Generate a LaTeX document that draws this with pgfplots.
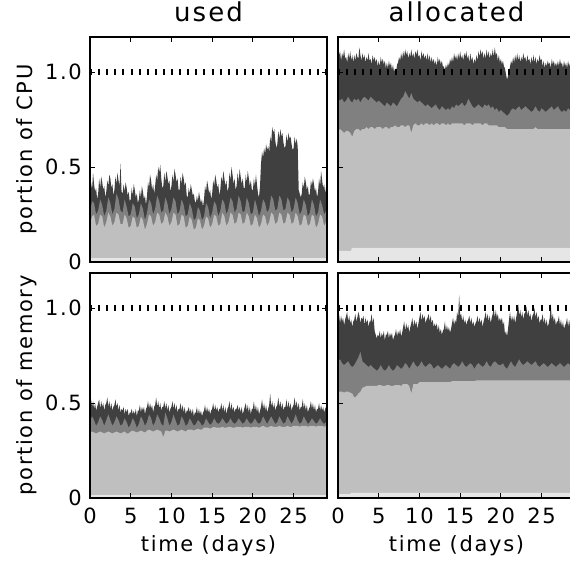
\documentclass[border=0pt]{standalone}
\usepackage{pgfplots}
\usepackage{pgfplotstable}
\pgfplotsset{compat=1.18}
\usepackage{fontspec}
\setmainfont{DejaVu Sans}[LetterSpace=8]

\definecolor{cbase}{RGB}{230,230,230}
\definecolor{clight}{RGB}{191,191,191}
\definecolor{cmid}{RGB}{128,128,128}
\definecolor{cdark}{RGB}{64,64,64}

% ---------- CPU used: light / medium tops ----------
\pgfplotstableread{
t l m
0.00 0.20 0.26
0.25 0.24 0.32
0.50 0.25 0.31
0.75 0.19 0.25
1.00 0.20 0.27
1.25 0.25 0.33
1.50 0.24 0.30
1.75 0.18 0.24
2.00 0.21 0.27
2.25 0.26 0.34
2.50 0.24 0.31
2.75 0.19 0.25
3.00 0.21 0.28
3.25 0.26 0.36
3.50 0.25 0.33
3.75 0.20 0.27
4.00 0.20 0.26
4.25 0.25 0.33
4.50 0.23 0.29
4.75 0.18 0.24
5.00 0.19 0.25
5.25 0.24 0.31
5.50 0.23 0.29
5.75 0.18 0.23
6.00 0.19 0.25
6.25 0.24 0.31
6.50 0.22 0.28
6.75 0.17 0.22
7.00 0.20 0.26
7.25 0.25 0.33
7.50 0.24 0.31
7.75 0.19 0.25
8.00 0.21 0.28
8.25 0.26 0.35
8.50 0.25 0.32
8.75 0.20 0.26
9.00 0.21 0.27
9.25 0.26 0.34
9.50 0.24 0.31
9.75 0.19 0.25
10.00 0.21 0.28
10.25 0.26 0.34
10.50 0.25 0.32
10.75 0.19 0.25
11.00 0.20 0.27
11.25 0.25 0.33
11.50 0.24 0.30
11.75 0.18 0.24
12.00 0.19 0.25
12.25 0.24 0.31
12.50 0.22 0.28
12.75 0.17 0.22
13.00 0.18 0.23
13.25 0.23 0.29
13.50 0.22 0.27
13.75 0.17 0.22
14.00 0.19 0.24
14.25 0.24 0.31
14.50 0.23 0.29
14.75 0.18 0.23
15.00 0.20 0.26
15.25 0.25 0.32
15.50 0.24 0.30
15.75 0.19 0.24
16.00 0.20 0.27
16.25 0.26 0.33
16.50 0.24 0.31
16.75 0.19 0.25
17.00 0.21 0.28
17.25 0.26 0.34
17.50 0.25 0.32
17.75 0.20 0.26
18.00 0.21 0.28
18.25 0.26 0.35
18.50 0.25 0.32
18.75 0.20 0.26
19.00 0.21 0.27
19.25 0.26 0.34
19.50 0.24 0.31
19.75 0.19 0.25
20.00 0.20 0.26
20.25 0.25 0.33
20.50 0.23 0.29
20.75 0.18 0.24
21.00 0.20 0.27
21.25 0.25 0.33
21.50 0.24 0.31
21.75 0.19 0.26
22.00 0.21 0.28
22.25 0.26 0.35
22.50 0.25 0.33
22.75 0.20 0.27
23.00 0.21 0.28
23.25 0.26 0.35
23.50 0.25 0.33
23.75 0.20 0.27
24.00 0.21 0.28
24.25 0.26 0.34
24.50 0.25 0.32
24.75 0.20 0.26
25.00 0.21 0.28
25.25 0.26 0.34
25.50 0.24 0.31
25.75 0.19 0.25
26.00 0.20 0.27
26.25 0.25 0.33
26.50 0.24 0.30
26.75 0.19 0.24
27.00 0.20 0.26
27.25 0.25 0.33
27.50 0.24 0.30
27.75 0.18 0.24
28.00 0.20 0.26
28.25 0.25 0.33
28.50 0.24 0.30
28.75 0.19 0.25
29.00 0.21 0.27
29.10 0.24 0.31
}\dataA

% ---------- CPU used: dark top ----------
\pgfplotstableread[row sep=\\]{
t d\\
0 0.34\\ 0.125 0.42\\ 0.25 0.38\\ 0.375 0.47\\ 0.5 0.41\\ 0.625 0.37\\ 0.75 0.39\\ 0.875 0.33\\
1 0.36\\ 1.125 0.44\\ 1.25 0.39\\ 1.375 0.45\\ 1.5 0.42\\ 1.625 0.38\\ 1.75 0.40\\ 1.875 0.34\\
2 0.37\\ 2.125 0.43\\ 2.25 0.40\\ 2.375 0.46\\ 2.5 0.44\\ 2.625 0.39\\ 2.75 0.41\\ 2.875 0.35\\
3 0.38\\ 3.125 0.45\\ 3.25 0.41\\ 3.375 0.47\\ 3.5 0.43\\ 3.625 0.40\\ 3.75 0.52\\ 3.875 0.37\\
4 0.36\\ 4.125 0.41\\ 4.25 0.37\\ 4.375 0.42\\ 4.5 0.39\\ 4.625 0.35\\ 4.75 0.37\\ 4.875 0.32\\
5 0.33\\ 5.125 0.39\\ 5.25 0.35\\ 5.375 0.41\\ 5.5 0.38\\ 5.625 0.34\\ 5.75 0.36\\ 5.875 0.31\\
6 0.33\\ 6.125 0.38\\ 6.25 0.34\\ 6.375 0.40\\ 6.5 0.37\\ 6.625 0.33\\ 6.75 0.35\\ 6.875 0.30\\
7 0.35\\ 7.125 0.42\\ 7.25 0.39\\ 7.375 0.46\\ 7.5 0.43\\ 7.625 0.38\\ 7.75 0.41\\ 7.875 0.36\\
8 0.40\\ 8.125 0.46\\ 8.25 0.43\\ 8.375 0.50\\ 8.5 0.47\\ 8.625 0.51\\ 8.75 0.44\\ 8.875 0.39\\
9 0.40\\ 9.125 0.47\\ 9.25 0.42\\ 9.375 0.48\\ 9.5 0.45\\ 9.625 0.41\\ 9.75 0.43\\ 9.875 0.37\\
10 0.40\\ 10.125 0.46\\ 10.25 0.42\\ 10.375 0.49\\ 10.5 0.46\\ 10.625 0.42\\ 10.75 0.44\\ 10.875 0.38\\
11 0.38\\ 11.125 0.45\\ 11.25 0.41\\ 11.375 0.47\\ 11.5 0.44\\ 11.625 0.40\\ 11.75 0.42\\ 11.875 0.35\\
12 0.34\\ 12.125 0.39\\ 12.25 0.36\\ 12.375 0.41\\ 12.5 0.38\\ 12.625 0.35\\ 12.75 0.36\\ 12.875 0.32\\
13 0.31\\ 13.125 0.35\\ 13.25 0.32\\ 13.375 0.37\\ 13.5 0.34\\ 13.625 0.31\\ 13.75 0.33\\ 13.875 0.29\\
14 0.33\\ 14.125 0.40\\ 14.25 0.37\\ 14.375 0.43\\ 14.5 0.40\\ 14.625 0.36\\ 14.75 0.38\\ 14.875 0.33\\
15 0.36\\ 15.125 0.43\\ 15.25 0.40\\ 15.375 0.46\\ 15.5 0.43\\ 15.625 0.39\\ 15.75 0.41\\ 15.875 0.35\\
16 0.38\\ 16.125 0.45\\ 16.25 0.42\\ 16.375 0.48\\ 16.5 0.44\\ 16.625 0.40\\ 16.75 0.43\\ 16.875 0.37\\
17 0.39\\ 17.125 0.47\\ 17.25 0.43\\ 17.375 0.50\\ 17.5 0.46\\ 17.625 0.41\\ 17.75 0.44\\ 17.875 0.38\\
18 0.40\\ 18.125 0.47\\ 18.25 0.42\\ 18.375 0.49\\ 18.5 0.45\\ 18.625 0.41\\ 18.75 0.44\\ 18.875 0.39\\
19 0.39\\ 19.125 0.46\\ 19.25 0.42\\ 19.375 0.48\\ 19.5 0.44\\ 19.625 0.40\\ 19.75 0.43\\ 19.875 0.38\\
20 0.38\\ 20.125 0.44\\ 20.25 0.40\\ 20.375 0.46\\ 20.5 0.41\\ 20.625 0.36\\ 20.75 0.34\\ 20.875 0.40\\
21 0.52\\ 21.125 0.58\\ 21.25 0.55\\ 21.375 0.60\\ 21.5 0.57\\ 21.625 0.62\\ 21.75 0.59\\ 21.875 0.61\\
22 0.58\\ 22.125 0.66\\ 22.25 0.63\\ 22.375 0.71\\ 22.5 0.68\\ 22.625 0.70\\ 22.75 0.64\\ 22.875 0.60\\
23 0.62\\ 23.125 0.69\\ 23.25 0.65\\ 23.375 0.70\\ 23.5 0.66\\ 23.625 0.68\\ 23.75 0.63\\ 23.875 0.60\\
24 0.61\\ 24.125 0.67\\ 24.25 0.63\\ 24.375 0.68\\ 24.5 0.65\\ 24.625 0.66\\ 24.75 0.62\\ 24.875 0.59\\
25 0.60\\ 25.125 0.66\\ 25.25 0.62\\ 25.375 0.65\\ 25.5 0.61\\ 25.625 0.38\\ 25.75 0.36\\ 25.875 0.34\\
26 0.36\\ 26.125 0.42\\ 26.25 0.39\\ 26.375 0.45\\ 26.5 0.42\\ 26.625 0.38\\ 26.75 0.40\\ 26.875 0.35\\
27 0.36\\ 27.125 0.43\\ 27.25 0.40\\ 27.375 0.44\\ 27.5 0.41\\ 27.625 0.37\\ 27.75 0.39\\ 27.875 0.34\\
28 0.37\\ 28.125 0.44\\ 28.25 0.40\\ 28.375 0.48\\ 28.5 0.43\\ 28.625 0.39\\ 28.75 0.41\\ 28.875 0.36\\
29 0.40\\ 29.1 0.43\\
}\darkA

% ---------- CPU allocated: light / medium tops ----------
\pgfplotstableread{
t l m
0.00 0.69 0.86
0.25 0.70 0.85
0.50 0.69 0.86
0.75 0.68 0.84
1.00 0.69 0.85
1.25 0.69 0.87
1.50 0.68 0.85
1.75 0.66 0.84
2.00 0.69 0.86
2.25 0.70 0.85
2.50 0.70 0.86
2.75 0.69 0.84
3.00 0.70 0.86
3.25 0.70 0.87
3.50 0.71 0.86
3.75 0.70 0.85
4.00 0.71 0.87
4.25 0.71 0.86
4.50 0.70 0.85
4.75 0.71 0.84
5.00 0.71 0.85
5.25 0.71 0.84
5.50 0.70 0.83
5.75 0.71 0.82
6.00 0.71 0.84
6.25 0.70 0.83
6.50 0.71 0.82
6.75 0.71 0.84
7.00 0.72 0.83
7.25 0.71 0.82
7.50 0.71 0.84
7.75 0.72 0.86
8.00 0.72 0.87
8.25 0.71 0.90
8.50 0.72 0.88
8.75 0.72 0.86
9.00 0.68 0.89
9.25 0.72 0.86
9.50 0.73 0.85
9.75 0.72 0.84
10.00 0.72 0.85
10.25 0.73 0.84
10.50 0.72 0.83
10.75 0.73 0.82
11.00 0.73 0.83
11.25 0.72 0.82
11.50 0.73 0.81
11.75 0.72 0.82
12.00 0.73 0.83
12.25 0.73 0.81
12.50 0.72 0.80
12.75 0.73 0.82
13.00 0.73 0.81
13.25 0.72 0.80
13.50 0.73 0.81
13.75 0.72 0.80
14.00 0.73 0.82
14.25 0.73 0.81
14.50 0.73 0.83
14.75 0.73 0.82
15.00 0.73 0.83
15.25 0.73 0.84
15.50 0.72 0.82
15.75 0.73 0.83
16.00 0.73 0.86
16.25 0.73 0.84
16.50 0.72 0.82
16.75 0.73 0.81
17.00 0.73 0.82
17.25 0.73 0.83
17.50 0.73 0.82
17.75 0.72 0.81
18.00 0.73 0.83
18.25 0.73 0.82
18.50 0.72 0.83
18.75 0.72 0.81
19.00 0.72 0.82
19.25 0.72 0.80
19.50 0.72 0.81
19.75 0.71 0.79
20.00 0.71 0.80
20.25 0.71 0.79
20.50 0.71 0.78
20.75 0.70 0.77
21.00 0.70 0.78
21.25 0.70 0.80
21.50 0.70 0.81
21.75 0.70 0.80
22.00 0.70 0.81
22.25 0.70 0.82
22.50 0.70 0.80
22.75 0.70 0.81
23.00 0.70 0.82
23.25 0.70 0.81
23.50 0.70 0.80
23.75 0.70 0.79
24.00 0.70 0.80
24.25 0.71 0.82
24.50 0.70 0.80
24.75 0.70 0.79
25.00 0.70 0.81
25.25 0.70 0.80
25.50 0.70 0.79
25.75 0.70 0.80
26.00 0.70 0.81
26.25 0.70 0.82
26.50 0.70 0.80
26.75 0.70 0.81
27.00 0.70 0.82
27.25 0.70 0.80
27.50 0.70 0.79
27.75 0.70 0.80
28.00 0.70 0.79
28.25 0.70 0.81
28.50 0.70 0.80
28.75 0.70 0.79
29.00 0.70 0.80
29.10 0.70 0.79
}\dataB

% ---------- CPU allocated: dark top ----------
\pgfplotstableread[row sep=\\]{
t d\\
0 1.13\\ 0.125 1.09\\ 0.25 1.11\\ 0.375 1.06\\ 0.5 1.10\\ 0.625 1.08\\ 0.75 1.12\\ 0.875 1.07\\
1 1.08\\ 1.125 1.05\\ 1.25 1.10\\ 1.375 1.07\\ 1.5 1.11\\ 1.625 1.06\\ 1.75 1.09\\ 1.875 1.05\\
2 1.09\\ 2.125 1.06\\ 2.25 1.10\\ 2.375 1.08\\ 2.5 1.07\\ 2.625 1.13\\ 2.75 1.09\\ 2.875 1.06\\
3 1.10\\ 3.125 1.07\\ 3.25 1.09\\ 3.375 1.05\\ 3.5 1.08\\ 3.625 1.06\\ 3.75 1.10\\ 3.875 1.06\\
4 1.07\\ 4.125 1.04\\ 4.25 1.09\\ 4.375 1.06\\ 4.5 1.08\\ 4.625 1.05\\ 4.75 1.07\\ 4.875 1.03\\
5 1.06\\ 5.125 1.03\\ 5.25 1.08\\ 5.375 1.05\\ 5.5 1.07\\ 5.625 1.04\\ 5.75 1.06\\ 5.875 1.02\\
6 1.05\\ 6.125 1.02\\ 6.25 1.06\\ 6.375 1.03\\ 6.5 1.05\\ 6.625 1.01\\ 6.75 1.04\\ 6.875 1.00\\
7 1.02\\ 7.125 1.00\\ 7.25 1.04\\ 7.375 1.05\\ 7.5 1.08\\ 7.625 1.06\\ 7.75 1.10\\ 7.875 1.07\\
8 1.11\\ 8.125 1.08\\ 8.25 1.12\\ 8.375 1.09\\ 8.5 1.11\\ 8.625 1.07\\ 8.75 1.10\\ 8.875 1.08\\
9 1.12\\ 9.125 1.08\\ 9.25 1.10\\ 9.375 1.07\\ 9.5 1.11\\ 9.625 1.09\\ 9.75 1.12\\ 9.875 1.08\\
10 1.09\\ 10.125 1.06\\ 10.25 1.11\\ 10.375 1.08\\ 10.5 1.10\\ 10.625 1.07\\ 10.75 1.09\\ 10.875 1.06\\
11 1.10\\ 11.125 1.06\\ 11.25 1.09\\ 11.375 1.05\\ 11.5 1.08\\ 11.625 1.05\\ 11.75 1.07\\ 11.875 1.04\\
12 1.06\\ 12.125 1.03\\ 12.25 1.08\\ 12.375 1.05\\ 12.5 1.07\\ 12.625 1.04\\ 12.75 1.06\\ 12.875 1.03\\
13 1.03\\ 13.125 1.01\\ 13.25 1.04\\ 13.375 1.02\\ 13.5 1.05\\ 13.625 1.03\\ 13.75 1.07\\ 13.875 1.05\\
14 1.08\\ 14.125 1.05\\ 14.25 1.10\\ 14.375 1.07\\ 14.5 1.09\\ 14.625 1.06\\ 14.75 1.10\\ 14.875 1.07\\
15 1.11\\ 15.125 1.07\\ 15.25 1.09\\ 15.375 1.06\\ 15.5 1.10\\ 15.625 1.08\\ 15.75 1.11\\ 15.875 1.07\\
16 1.09\\ 16.125 1.05\\ 16.25 1.10\\ 16.375 1.06\\ 16.5 1.08\\ 16.625 1.04\\ 16.75 1.07\\ 16.875 1.05\\
17 1.09\\ 17.125 1.06\\ 17.25 1.11\\ 17.375 1.08\\ 17.5 1.12\\ 17.625 1.09\\ 17.75 1.11\\ 17.875 1.07\\
18 1.10\\ 18.125 1.07\\ 18.25 1.12\\ 18.375 1.08\\ 18.5 1.11\\ 18.625 1.07\\ 18.75 1.10\\ 18.875 1.08\\
19 1.12\\ 19.125 1.08\\ 19.25 1.13\\ 19.375 1.09\\ 19.5 1.10\\ 19.625 1.06\\ 19.75 1.09\\ 19.875 1.05\\
20 1.07\\ 20.125 1.04\\ 20.25 1.06\\ 20.375 1.03\\ 20.5 1.02\\ 20.625 0.99\\ 20.75 0.96\\ 20.875 0.98\\
21 1.00\\ 21.125 1.03\\ 21.25 1.06\\ 21.375 1.04\\ 21.5 1.08\\ 21.625 1.05\\ 21.75 1.09\\ 21.875 1.06\\
22 1.10\\ 22.125 1.06\\ 22.25 1.09\\ 22.375 1.05\\ 22.5 1.08\\ 22.625 1.06\\ 22.75 1.10\\ 22.875 1.07\\
23 1.08\\ 23.125 1.05\\ 23.25 1.09\\ 23.375 1.06\\ 23.5 1.07\\ 23.625 1.04\\ 23.75 1.08\\ 23.875 1.05\\
24 1.09\\ 24.125 1.05\\ 24.25 1.08\\ 24.375 1.04\\ 24.5 1.07\\ 24.625 1.05\\ 24.75 1.09\\ 24.875 1.06\\
25 1.07\\ 25.125 1.03\\ 25.25 1.06\\ 25.375 1.02\\ 25.5 1.05\\ 25.625 1.03\\ 25.75 1.06\\ 25.875 1.04\\
26 1.05\\ 26.125 1.02\\ 26.25 1.07\\ 26.375 1.04\\ 26.5 1.06\\ 26.625 1.03\\ 26.75 1.05\\ 26.875 1.03\\
27 1.06\\ 27.125 1.03\\ 27.25 1.07\\ 27.375 1.04\\ 27.5 1.05\\ 27.625 1.02\\ 27.75 1.06\\ 27.875 1.03\\
28 1.05\\ 28.125 1.02\\ 28.25 1.06\\ 28.375 1.03\\ 28.5 1.05\\ 28.625 1.02\\ 28.75 1.04\\ 28.875 1.03\\
29 1.05\\ 29.1 1.03\\
}\darkB

% ---------- memory used: light / medium tops ----------
\pgfplotstableread{
t l m
0.00 0.345 0.40
0.25 0.350 0.43
0.50 0.345 0.41
0.75 0.340 0.38
1.00 0.345 0.40
1.25 0.350 0.43
1.50 0.345 0.41
1.75 0.340 0.38
2.00 0.345 0.41
2.25 0.350 0.44
2.50 0.345 0.41
2.75 0.340 0.38
3.00 0.345 0.40
3.25 0.350 0.43
3.50 0.345 0.41
3.75 0.340 0.38
4.00 0.345 0.39
4.25 0.350 0.42
4.50 0.340 0.40
4.75 0.340 0.37
5.00 0.350 0.39
5.25 0.355 0.42
5.50 0.350 0.40
5.75 0.345 0.37
6.00 0.350 0.39
6.25 0.355 0.43
6.50 0.350 0.41
6.75 0.345 0.38
7.00 0.355 0.40
7.25 0.360 0.44
7.50 0.355 0.42
7.75 0.350 0.38
8.00 0.355 0.40
8.25 0.360 0.44
8.50 0.355 0.42
8.75 0.350 0.39
9.00 0.320 0.38
9.25 0.355 0.45
9.50 0.355 0.42
9.75 0.350 0.38
10.00 0.355 0.40
10.25 0.360 0.44
10.50 0.355 0.41
10.75 0.350 0.38
11.00 0.355 0.39
11.25 0.360 0.43
11.50 0.355 0.41
11.75 0.350 0.38
12.00 0.360 0.39
12.25 0.360 0.42
12.50 0.360 0.40
12.75 0.355 0.38
13.00 0.360 0.39
13.25 0.365 0.41
13.50 0.360 0.40
13.75 0.360 0.38
14.00 0.370 0.39
14.25 0.370 0.42
14.50 0.370 0.40
14.75 0.365 0.385
15.00 0.370 0.395
15.25 0.375 0.42
15.50 0.370 0.40
15.75 0.370 0.39
16.00 0.370 0.40
16.25 0.375 0.42
16.50 0.370 0.405
16.75 0.370 0.39
17.00 0.375 0.40
17.25 0.375 0.42
17.50 0.370 0.40
17.75 0.370 0.39
18.00 0.375 0.40
18.25 0.375 0.42
18.50 0.375 0.405
18.75 0.370 0.39
19.00 0.375 0.40
19.25 0.375 0.42
19.50 0.375 0.40
19.75 0.370 0.39
20.00 0.375 0.40
20.25 0.375 0.42
20.50 0.375 0.40
20.75 0.370 0.39
21.00 0.375 0.40
21.25 0.380 0.43
21.50 0.375 0.41
21.75 0.370 0.39
22.00 0.375 0.41
22.25 0.380 0.43
22.50 0.375 0.41
22.75 0.375 0.39
23.00 0.375 0.40
23.25 0.380 0.43
23.50 0.375 0.41
23.75 0.375 0.39
24.00 0.375 0.40
24.25 0.380 0.43
24.50 0.375 0.41
24.75 0.375 0.39
25.00 0.380 0.41
25.25 0.380 0.44
25.50 0.380 0.41
25.75 0.375 0.39
26.00 0.380 0.40
26.25 0.380 0.43
26.50 0.380 0.41
26.75 0.375 0.39
27.00 0.380 0.40
27.25 0.380 0.42
27.50 0.380 0.405
27.75 0.375 0.39
28.00 0.380 0.40
28.25 0.380 0.42
28.50 0.380 0.40
28.75 0.375 0.39
29.00 0.380 0.40
29.10 0.380 0.41
}\dataC

% ---------- memory used: dark top ----------
\pgfplotstableread[row sep=\\]{
t d\\
0 0.49\\ 0.125 0.52\\ 0.25 0.48\\ 0.375 0.51\\ 0.5 0.47\\ 0.625 0.50\\ 0.75 0.46\\ 0.875 0.48\\
1 0.50\\ 1.125 0.52\\ 1.25 0.47\\ 1.375 0.51\\ 1.5 0.48\\ 1.625 0.50\\ 1.75 0.46\\ 1.875 0.49\\
2 0.50\\ 2.125 0.53\\ 2.25 0.48\\ 2.375 0.51\\ 2.5 0.47\\ 2.625 0.50\\ 2.75 0.46\\ 2.875 0.48\\
3 0.49\\ 3.125 0.52\\ 3.25 0.48\\ 3.375 0.50\\ 3.5 0.46\\ 3.625 0.49\\ 3.75 0.45\\ 3.875 0.47\\
4 0.46\\ 4.125 0.48\\ 4.25 0.44\\ 4.375 0.47\\ 4.5 0.45\\ 4.625 0.47\\ 4.75 0.43\\ 4.875 0.45\\
5 0.45\\ 5.125 0.47\\ 5.25 0.44\\ 5.375 0.46\\ 5.5 0.44\\ 5.625 0.47\\ 5.75 0.43\\ 5.875 0.46\\
6 0.46\\ 6.125 0.49\\ 6.25 0.45\\ 6.375 0.48\\ 6.5 0.46\\ 6.625 0.48\\ 6.75 0.44\\ 6.875 0.47\\
7 0.48\\ 7.125 0.51\\ 7.25 0.47\\ 7.375 0.50\\ 7.5 0.47\\ 7.625 0.49\\ 7.75 0.45\\ 7.875 0.48\\
8 0.49\\ 8.125 0.53\\ 8.25 0.48\\ 8.375 0.51\\ 8.5 0.47\\ 8.625 0.50\\ 8.75 0.46\\ 8.875 0.48\\
9 0.48\\ 9.125 0.51\\ 9.25 0.47\\ 9.375 0.50\\ 9.5 0.46\\ 9.625 0.49\\ 9.75 0.45\\ 9.875 0.47\\
10 0.48\\ 10.125 0.51\\ 10.25 0.47\\ 10.375 0.50\\ 10.5 0.46\\ 10.625 0.49\\ 10.75 0.45\\ 10.875 0.47\\
11 0.47\\ 11.125 0.50\\ 11.25 0.46\\ 11.375 0.49\\ 11.5 0.45\\ 11.625 0.48\\ 11.75 0.44\\ 11.875 0.46\\
12 0.46\\ 12.125 0.48\\ 12.25 0.45\\ 12.375 0.47\\ 12.5 0.44\\ 12.625 0.47\\ 12.75 0.43\\ 12.875 0.45\\
13 0.45\\ 13.125 0.48\\ 13.25 0.44\\ 13.375 0.47\\ 13.5 0.44\\ 13.625 0.46\\ 13.75 0.43\\ 13.875 0.45\\
14 0.46\\ 14.125 0.49\\ 14.25 0.45\\ 14.375 0.48\\ 14.5 0.45\\ 14.625 0.47\\ 14.75 0.44\\ 14.875 0.46\\
15 0.47\\ 15.125 0.50\\ 15.25 0.46\\ 15.375 0.49\\ 15.5 0.46\\ 15.625 0.48\\ 15.75 0.45\\ 15.875 0.47\\
16 0.47\\ 16.125 0.50\\ 16.25 0.46\\ 16.375 0.49\\ 16.5 0.45\\ 16.625 0.48\\ 16.75 0.44\\ 16.875 0.47\\
17 0.48\\ 17.125 0.51\\ 17.25 0.46\\ 17.375 0.50\\ 17.5 0.46\\ 17.625 0.48\\ 17.75 0.45\\ 17.875 0.47\\
18 0.47\\ 18.125 0.49\\ 18.25 0.46\\ 18.375 0.48\\ 18.5 0.45\\ 18.625 0.48\\ 18.75 0.44\\ 18.875 0.46\\
19 0.48\\ 19.125 0.50\\ 19.25 0.46\\ 19.375 0.49\\ 19.5 0.45\\ 19.625 0.48\\ 19.75 0.44\\ 19.875 0.47\\
20 0.47\\ 20.125 0.51\\ 20.25 0.46\\ 20.375 0.49\\ 20.5 0.45\\ 20.625 0.48\\ 20.75 0.44\\ 20.875 0.46\\
21 0.48\\ 21.125 0.52\\ 21.25 0.47\\ 21.375 0.50\\ 21.5 0.46\\ 21.625 0.49\\ 21.75 0.45\\ 21.875 0.47\\
22 0.49\\ 22.125 0.55\\ 22.25 0.48\\ 22.375 0.51\\ 22.5 0.47\\ 22.625 0.50\\ 22.75 0.46\\ 22.875 0.48\\
23 0.49\\ 23.125 0.53\\ 23.25 0.48\\ 23.375 0.51\\ 23.5 0.47\\ 23.625 0.50\\ 23.75 0.46\\ 23.875 0.48\\
24 0.48\\ 24.125 0.52\\ 24.25 0.47\\ 24.375 0.51\\ 24.5 0.47\\ 24.625 0.50\\ 24.75 0.46\\ 24.875 0.48\\
25 0.49\\ 25.125 0.53\\ 25.25 0.48\\ 25.375 0.51\\ 25.5 0.47\\ 25.625 0.50\\ 25.75 0.46\\ 25.875 0.48\\
26 0.48\\ 26.125 0.52\\ 26.25 0.47\\ 26.375 0.50\\ 26.5 0.46\\ 26.625 0.49\\ 26.75 0.45\\ 26.875 0.47\\
27 0.48\\ 27.125 0.51\\ 27.25 0.47\\ 27.375 0.50\\ 27.5 0.46\\ 27.625 0.49\\ 27.75 0.45\\ 27.875 0.47\\
28 0.47\\ 28.125 0.50\\ 28.25 0.46\\ 28.375 0.49\\ 28.5 0.46\\ 28.625 0.48\\ 28.75 0.45\\ 28.875 0.47\\
29 0.48\\ 29.1 0.49\\
}\darkC

% ---------- memory allocated: light / medium tops ----------
\pgfplotstableread{
t l m
0.00 0.560 0.72
0.25 0.560 0.73
0.50 0.560 0.71
0.75 0.555 0.70
1.00 0.560 0.71
1.25 0.560 0.72
1.50 0.555 0.70
1.75 0.550 0.69
2.00 0.530 0.70
2.25 0.535 0.72
2.50 0.550 0.74
2.75 0.560 0.77
3.00 0.580 0.72
3.25 0.585 0.71
3.50 0.590 0.70
3.75 0.590 0.69
4.00 0.590 0.70
4.25 0.590 0.69
4.50 0.590 0.68
4.75 0.590 0.67
5.00 0.595 0.68
5.25 0.595 0.70
5.50 0.590 0.68
5.75 0.590 0.67
6.00 0.595 0.68
6.25 0.595 0.70
6.50 0.590 0.68
6.75 0.590 0.67
7.00 0.595 0.68
7.25 0.595 0.70
7.50 0.595 0.69
7.75 0.590 0.68
8.00 0.600 0.69
8.25 0.600 0.71
8.50 0.600 0.70
8.75 0.590 0.68
9.00 0.550 0.70
9.25 0.600 0.72
9.50 0.600 0.70
9.75 0.600 0.69
10.00 0.610 0.70
10.25 0.610 0.72
10.50 0.610 0.70
10.75 0.610 0.69
11.00 0.610 0.70
11.25 0.610 0.71
11.50 0.610 0.70
11.75 0.610 0.68
12.00 0.610 0.69
12.25 0.610 0.70
12.50 0.610 0.69
12.75 0.610 0.68
13.00 0.610 0.69
13.25 0.610 0.70
13.50 0.610 0.69
13.75 0.610 0.68
14.00 0.615 0.70
14.25 0.615 0.71
14.50 0.615 0.70
14.75 0.615 0.69
15.00 0.615 0.70
15.25 0.615 0.72
15.50 0.615 0.70
15.75 0.615 0.69
16.00 0.615 0.70
16.25 0.615 0.71
16.50 0.615 0.70
16.75 0.615 0.68
17.00 0.620 0.70
17.25 0.620 0.71
17.50 0.620 0.70
17.75 0.620 0.69
18.00 0.620 0.70
18.25 0.620 0.72
18.50 0.620 0.70
18.75 0.620 0.69
19.00 0.620 0.71
19.25 0.620 0.72
19.50 0.620 0.71
19.75 0.620 0.70
20.00 0.620 0.70
20.25 0.620 0.71
20.50 0.620 0.69
20.75 0.620 0.68
21.00 0.620 0.70
21.25 0.620 0.72
21.50 0.620 0.70
21.75 0.620 0.69
22.00 0.620 0.71
22.25 0.620 0.73
22.50 0.620 0.71
22.75 0.620 0.70
23.00 0.620 0.71
23.25 0.620 0.72
23.50 0.620 0.71
23.75 0.620 0.70
24.00 0.620 0.71
24.25 0.620 0.72
24.50 0.620 0.70
24.75 0.620 0.69
25.00 0.620 0.70
25.25 0.620 0.71
25.50 0.620 0.70
25.75 0.620 0.69
26.00 0.620 0.70
26.25 0.620 0.71
26.50 0.620 0.70
26.75 0.620 0.69
27.00 0.620 0.70
27.25 0.620 0.71
27.50 0.620 0.70
27.75 0.620 0.69
28.00 0.620 0.70
28.25 0.620 0.71
28.50 0.620 0.70
28.75 0.620 0.69
29.00 0.620 0.70
29.10 0.620 0.70
}\dataD

% ---------- memory allocated: dark top ----------
\pgfplotstableread[row sep=\\]{
t d\\
0 0.95\\ 0.125 0.97\\ 0.25 0.92\\ 0.375 0.96\\ 0.5 0.93\\ 0.625 0.95\\ 0.75 0.91\\ 0.875 0.94\\
1 0.96\\ 1.125 0.98\\ 1.25 0.93\\ 1.375 0.96\\ 1.5 0.92\\ 1.625 0.94\\ 1.75 0.90\\ 1.875 0.93\\
2 0.94\\ 2.125 0.97\\ 2.25 0.93\\ 2.375 0.95\\ 2.5 0.98\\ 2.625 0.96\\ 2.75 0.92\\ 2.875 0.95\\
3 0.94\\ 3.125 0.96\\ 3.25 0.91\\ 3.375 0.95\\ 3.5 0.92\\ 3.625 0.94\\ 3.75 0.90\\ 3.875 0.93\\
4 0.93\\ 4.125 0.97\\ 4.25 0.92\\ 4.375 0.95\\ 4.5 0.88\\ 4.625 0.86\\ 4.75 0.84\\ 4.875 0.86\\
5 0.85\\ 5.125 0.88\\ 5.25 0.84\\ 5.375 0.87\\ 5.5 0.85\\ 5.625 0.88\\ 5.75 0.83\\ 5.875 0.86\\
6 0.86\\ 6.125 0.88\\ 6.25 0.84\\ 6.375 0.87\\ 6.5 0.85\\ 6.625 0.87\\ 6.75 0.83\\ 6.875 0.85\\
7 0.86\\ 7.125 0.89\\ 7.25 0.85\\ 7.375 0.88\\ 7.5 0.86\\ 7.625 0.89\\ 7.75 0.85\\ 7.875 0.87\\
8 0.90\\ 8.125 0.93\\ 8.25 0.88\\ 8.375 0.92\\ 8.5 0.89\\ 8.625 0.91\\ 8.75 0.87\\ 8.875 0.90\\
9 0.92\\ 9.125 0.95\\ 9.25 0.90\\ 9.375 0.94\\ 9.5 0.91\\ 9.625 0.93\\ 9.75 0.89\\ 9.875 0.92\\
10 0.95\\ 10.125 0.98\\ 10.25 0.93\\ 10.375 0.97\\ 10.5 0.94\\ 10.625 0.96\\ 10.75 0.92\\ 10.875 0.94\\
11 0.95\\ 11.125 0.97\\ 11.25 0.93\\ 11.375 0.96\\ 11.5 0.92\\ 11.625 0.94\\ 11.75 0.90\\ 11.875 0.92\\
12 0.90\\ 12.125 0.92\\ 12.25 0.88\\ 12.375 0.91\\ 12.5 0.87\\ 12.625 0.89\\ 12.75 0.86\\ 12.875 0.88\\
13 0.89\\ 13.125 0.93\\ 13.25 0.88\\ 13.375 0.91\\ 13.5 0.88\\ 13.625 0.90\\ 13.75 0.87\\ 13.875 0.89\\
14 0.92\\ 14.125 0.95\\ 14.25 0.91\\ 14.375 0.94\\ 14.5 0.92\\ 14.625 0.98\\ 14.75 0.95\\ 14.875 1.07\\
15 0.96\\ 15.125 0.97\\ 15.25 0.93\\ 15.375 0.96\\ 15.5 0.92\\ 15.625 0.94\\ 15.75 0.91\\ 15.875 0.93\\
16 0.94\\ 16.125 0.96\\ 16.25 0.92\\ 16.375 0.95\\ 16.5 0.91\\ 16.625 0.93\\ 16.75 0.90\\ 16.875 0.92\\
17 0.93\\ 17.125 0.96\\ 17.25 0.92\\ 17.375 0.95\\ 17.5 0.92\\ 17.625 0.94\\ 17.75 0.90\\ 17.875 0.93\\
18 0.95\\ 18.125 0.98\\ 18.25 0.94\\ 18.375 0.97\\ 18.5 0.93\\ 18.625 0.96\\ 18.75 0.92\\ 18.875 0.95\\
19 0.97\\ 19.125 1.00\\ 19.25 0.95\\ 19.375 0.99\\ 19.5 0.95\\ 19.625 0.97\\ 19.75 0.93\\ 19.875 0.95\\
20 0.93\\ 20.125 0.95\\ 20.25 0.91\\ 20.375 0.93\\ 20.5 0.86\\ 20.625 0.88\\ 20.75 0.85\\ 20.875 0.89\\
21 0.94\\ 21.125 0.98\\ 21.25 0.93\\ 21.375 0.96\\ 21.5 0.93\\ 21.625 0.96\\ 21.75 0.92\\ 21.875 0.95\\
22 0.98\\ 22.125 1.02\\ 22.25 0.96\\ 22.375 0.99\\ 22.5 0.95\\ 22.625 0.98\\ 22.75 0.94\\ 22.875 0.97\\
23 0.98\\ 23.125 1.01\\ 23.25 0.96\\ 23.375 0.99\\ 23.5 0.95\\ 23.625 0.97\\ 23.75 0.93\\ 23.875 0.96\\
24 0.97\\ 24.125 1.00\\ 24.25 0.95\\ 24.375 0.98\\ 24.5 0.94\\ 24.625 0.96\\ 24.75 0.92\\ 24.875 0.94\\
25 0.94\\ 25.125 0.97\\ 25.25 0.92\\ 25.375 0.95\\ 25.5 0.91\\ 25.625 0.94\\ 25.75 0.90\\ 25.875 0.92\\
26 0.95\\ 26.125 1.02\\ 26.25 0.94\\ 26.375 0.97\\ 26.5 0.93\\ 26.625 0.95\\ 26.75 0.91\\ 26.875 0.93\\
27 0.93\\ 27.125 0.96\\ 27.25 0.91\\ 27.375 0.94\\ 27.5 0.90\\ 27.625 0.93\\ 27.75 0.89\\ 27.875 0.91\\
28 0.92\\ 28.125 0.95\\ 28.25 0.90\\ 28.375 0.94\\ 28.5 0.90\\ 28.625 0.93\\ 28.75 0.89\\ 28.875 0.91\\
29 0.93\\ 29.1 0.92\\
}\darkD

\pgfplotsset{
  panel/.style={
    scale only axis, width=237pt, height=225pt,
    xmin=0, xmax=29.1, ymin=0, ymax=1.185,
    axis on top,
    axis line style={line width=1.5pt},
    tick style={line width=1pt, black},
    major tick length=5pt,
    tick align=inside,
    xtick={0,5,10,15,20,25},
    ytick={0,0.5,1},
    xticklabels={0,5,10,15,20,25},
    yticklabels={0,0.5,1.0},
    tick label style={font=\fontsize{21}{25}\selectfont},
    label style={font=\fontsize{21}{25}\selectfont},
    title style={font=\fontsize{26}{30}\selectfont, at={(axis description cs:0.5,1.044)}, anchor=base},
    xticklabel style={anchor=base, inner sep=0pt, yshift=-25pt},
    yticklabel style={anchor=east, inner sep=0pt, xshift=-8pt},
    ylabel style={at={(axis description cs:-0.266,0.5)}, anchor=center},
    xlabel style={at={(axis description cs:0.5,-0.237)}, anchor=base},
    /pgf/number format/assume math mode=true,
  },
  noxlab/.style={xticklabels={}},
  noylab/.style={yticklabels={}},
  ref line/.style={black, line width=6pt, dash pattern=on 2pt off 6.1pt},
}

\begin{document}
\begin{tikzpicture}[x=1pt,y=1pt]
\path[use as bounding box] (0,0) rectangle (570,560);

% upper left: CPU used
\begin{axis}[panel, noxlab, at={(90pt,298pt)}, anchor=south west,
  title={used}, ylabel={portion of CPU}]
\addplot[fill=cdark, draw=none] table[x=t,y=d] {\darkA} \closedcycle;
\addplot[fill=cmid, draw=none] table[x=t,y=m] {\dataA} \closedcycle;
\addplot[fill=clight, draw=none] table[x=t,y=l] {\dataA} \closedcycle;
\addplot[fill=cbase, draw=none] coordinates {(0,0.02) (29.1,0.02)} \closedcycle;
\addplot[ref line] coordinates {(0,1) (29.1,1)};
\end{axis}

% upper right: CPU allocated
\begin{axis}[panel, noxlab, noylab, at={(338pt,298pt)}, anchor=south west,
  title={allocated}]
\addplot[fill=cdark, draw=none] table[x=t,y=d] {\darkB} \closedcycle;
\addplot[fill=cmid, draw=none] table[x=t,y=m] {\dataB} \closedcycle;
\addplot[fill=clight, draw=none] table[x=t,y=l] {\dataB} \closedcycle;
\addplot[fill=cbase, draw=none] coordinates {(0,0.058) (1.6,0.058) (1.7,0.075) (29.1,0.075)} \closedcycle;
\addplot[ref line] coordinates {(0,1) (29.1,1)};
\end{axis}

% lower left: memory used
\begin{axis}[panel, at={(90pt,62pt)}, anchor=south west,
  ylabel={portion of memory}, xlabel={time (days)}]
\addplot[fill=cdark, draw=none] table[x=t,y=d] {\darkC} \closedcycle;
\addplot[fill=cmid, draw=none] table[x=t,y=m] {\dataC} \closedcycle;
\addplot[fill=clight, draw=none] table[x=t,y=l] {\dataC} \closedcycle;
\addplot[fill=cbase, draw=none] coordinates {(0,0.015) (29.1,0.015)} \closedcycle;
\addplot[ref line] coordinates {(0,1) (29.1,1)};
\end{axis}

% lower right: memory allocated
\begin{axis}[panel, noylab, at={(338pt,62pt)}, anchor=south west,
  xlabel={time (days)}]
\addplot[fill=cdark, draw=none] table[x=t,y=d] {\darkD} \closedcycle;
\addplot[fill=cmid, draw=none] table[x=t,y=m] {\dataD} \closedcycle;
\addplot[fill=clight, draw=none] table[x=t,y=l] {\dataD} \closedcycle;
\addplot[fill=cbase, draw=none] coordinates {(0,0.02) (1.5,0.02) (1.6,0.027) (29.1,0.027)} \closedcycle;
\addplot[ref line] coordinates {(0,1) (29.1,1)};
\end{axis}
\end{tikzpicture}
\end{document}
